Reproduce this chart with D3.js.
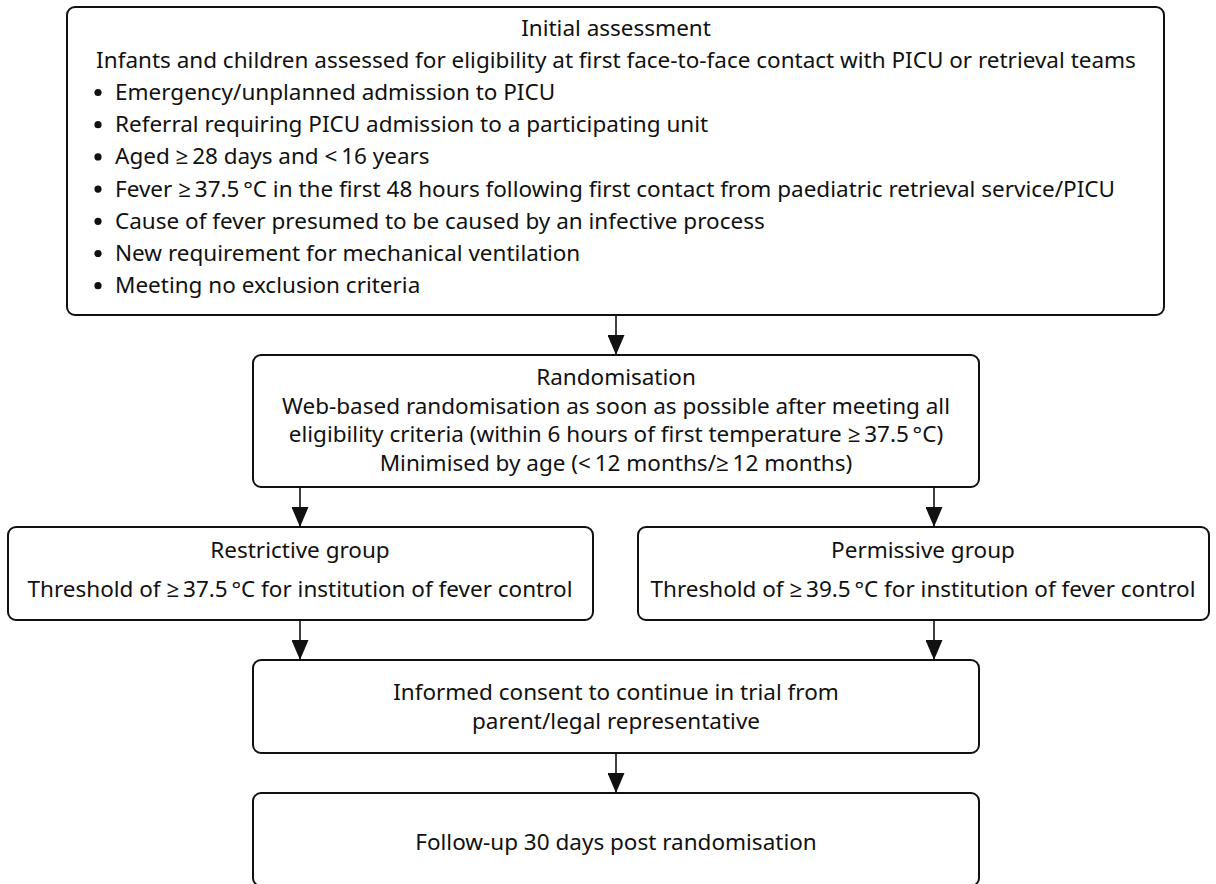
<!DOCTYPE html>
<html>
<head>
<meta charset="utf-8">
<script src="https://cdn.jsdelivr.net/npm/d3@7"></script>
<style>
  body { margin: 0; background: #fff; }
  svg text { font-family: "Noto Sans", "Open Sans", sans-serif; fill: #111; }
</style>
</head>
<body>
<div id="flow"></div>
<script>
// box texts
const assessTitle = "Initial assessment";
const assessIntro = "Infants and children assessed for eligibility at first face-to-face contact with PICU or retrieval teams";
const assessBullets = [
    "Emergency/unplanned admission to PICU",
    "Referral requiring PICU admission to a participating unit",
    "Aged \u2265\u200928 days and <\u200916 years",
    "Fever \u2265\u200937.5\u2009\u00b0C in the first 48 hours following first contact from paediatric retrieval service/PICU",
    "Cause of fever presumed to be caused by an infective process",
    "New requirement for mechanical ventilation",
    "Meeting no exclusion criteria"
];
const randLines = [
    "Randomisation",
    "Web-based randomisation as soon as possible after meeting all",
    "eligibility criteria (within 6 hours of first temperature \u2265\u200937.5\u2009\u00b0C)",
    "Minimised by age (<\u200912 months/\u2265\u200912 months)"
];
const restrictLines = ["Restrictive group", "Threshold of \u2265\u200937.5\u2009\u00b0C for institution of fever control"];
const permissLines = ["Permissive group", "Threshold of \u2265\u200939.5\u2009\u00b0C for institution of fever control"];
const consentLines = ["Informed consent to continue in trial from", "parent/legal representative"];
const followLines = ["Follow-up 30 days post randomisation"];

const width = 1216, height = 884;
const fontSize = 22.5;

const svg = d3.select("#flow").append("svg")
    .attr("width", width)
    .attr("height", height);

svg.append("defs").append("marker")
    .attr("id", "head")
    .attr("viewBox", "0 0 20 17")
    .attr("refX", 20).attr("refY", 8.5)
    .attr("markerUnits", "userSpaceOnUse")
    .attr("markerWidth", 20).attr("markerHeight", 17)
    .attr("orient", "auto")
    .append("path")
    .attr("d", "M0,0 L20,8.5 L0,17 Z")
    .attr("fill", "#111");

// layout of the boxes
const boxes = {
    assess:   { x0: 67,  x1: 1164, y0: 7,   y1: 315 },
    rand:     { x0: 253, x1: 979,  y0: 355, y1: 487 },
    restrict: { x0: 8,   x1: 593,  y0: 527, y1: 620 },
    permiss:  { x0: 638, x1: 1209, y0: 527, y1: 620 },
    consent:  { x0: 253, x1: 979,  y0: 660, y1: 753 },
    follow:   { x0: 253, x1: 979,  y0: 793, y1: 886 }
};

Object.values(boxes).forEach(b => {
    svg.append("rect")
        .attr("x", b.x0).attr("y", b.y0)
        .attr("width", b.x1 - b.x0).attr("height", b.y1 - b.y0)
        .attr("rx", 8).attr("ry", 8)
        .attr("fill", "none")
        .attr("stroke", "#111")
        .attr("stroke-width", 2);
});

function centred(lines, cx, firstBaseline, step) {
    svg.append("g").selectAll("text")
        .data(lines)
        .enter().append("text")
        .attr("x", cx)
        .attr("y", (d, i) => firstBaseline + i * step)
        .attr("text-anchor", "middle")
        .attr("font-size", fontSize)
        .text(d => d);
}

centred([assessTitle, assessIntro], 616, 36, 32);
const bl = svg.append("g").selectAll("g")
    .data(assessBullets)
    .enter().append("g")
    .attr("transform", (d, i) => `translate(0,${100 + i * 32.2})`);
bl.append("circle").attr("cx", 98).attr("cy", -7.5).attr("r", 3.6).attr("fill", "#111");
bl.append("text").attr("x", 115).attr("font-size", fontSize).text(d => d);

centred(randLines, 616, 385, 28.5);
centred(restrictLines, 300, 558, 39);
centred(permissLines, 923, 558, 39);
centred(consentLines, 616, 700, 28.5);
centred(followLines, 616, 850, 28.5);

const arrows = [
    [616, 315, 355],
    [300, 487, 527],
    [934, 487, 527],
    [300, 620, 660],
    [934, 620, 660],
    [616, 753, 793]
];
svg.append("g").selectAll("line")
    .data(arrows)
    .enter().append("line")
    .attr("x1", d => d[0]).attr("x2", d => d[0])
    .attr("y1", d => d[1]).attr("y2", d => d[2])
    .attr("stroke", "#111")
    .attr("stroke-width", 1.6)
    .attr("marker-end", "url(#head)");
</script>
</body>
</html>
